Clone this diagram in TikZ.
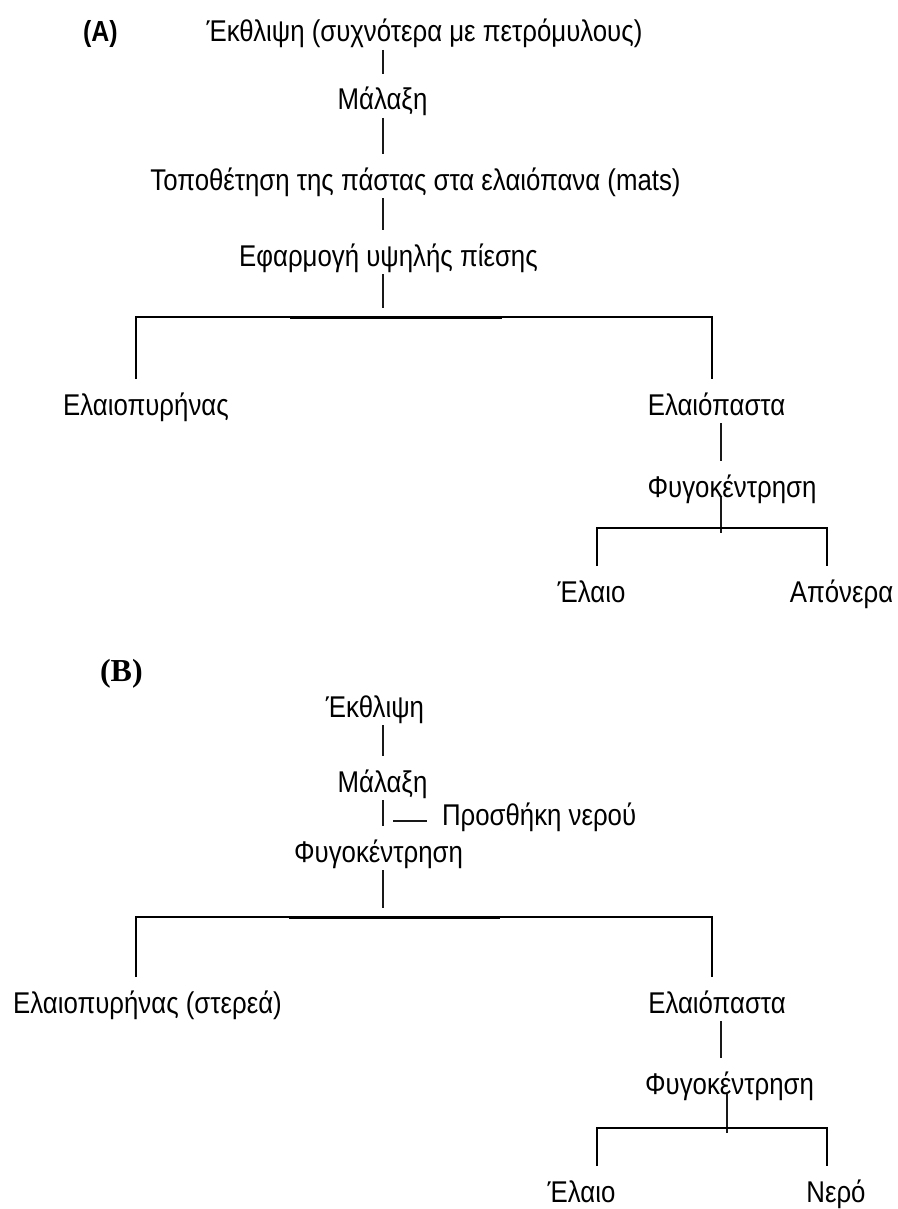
\documentclass[tikz,border=0pt]{standalone}
\usepackage{fontspec}
\setmainfont{Liberation Sans}[FakeStretch=0.86]
\newfontfamily\timesfont{Liberation Serif}
\usetikzlibrary{calc}
\begin{document}
\begin{tikzpicture}[x=1pt,y=-1pt,
  txt/.style={font=\fontsize{30}{34}\selectfont, inner sep=0pt, outer sep=0pt,
              text height=36pt, text depth=8pt, anchor=base},
  spine/.style={line width=1.2pt, draw=black!90},
  bar/.style={line width=1.7pt, draw=black},
  heavy/.style={line width=3pt, draw=black}]
\useasboundingbox (0,0) rectangle (897,1209);

% ---------- (A) ----------
\node[txt, anchor=base west, font=\fontsize{29}{33}\selectfont\bfseries] (lblA) at (83,42) {(A)};
\node[txt] (a1) at (424.5,42) {Έκθλιψη (συχνότερα με πετρόμυλους)};
\node[txt] (a2) at (382.5,110) {Μάλαξη};
\node[txt] (a3) at (415.5,190) {Τοποθέτηση της πάστας στα ελαιόπανα (mats)};
\node[txt] (a4) at (388.5,266) {Εφαρμογή υψηλής πίεσης};
\node[txt] (a5) at (146,415) {Ελαιοπυρήνας};
\node[txt] (a6) at (716.5,415) {Ελαιόπαστα};
\node[txt] (a7) at (732,497) {Φυγοκέντρηση};
\node[txt] (a8) at (591.5,602) {Έλαιο};
\node[txt] (a9) at (841.5,602) {Απόνερα};

\coordinate (sA) at (383,0);
\coordinate (sA2) at (721,0);
\coordinate (jA) at (383,308);
\coordinate (bAL) at (136,317);
\coordinate (bAR) at (712,317);
\coordinate (hA1) at (290,317);
\coordinate (hA2) at (502,317);
\coordinate (jA2) at (721,533);
\coordinate (cAL) at (597,528);
\coordinate (cAR) at (827,528);

\draw[spine] (a1.south -| sA) -- (a2.north -| sA);
\draw[spine] (a2.south -| sA) -- (a3.north -| sA);
\draw[spine] (a3.south -| sA) -- (a4.north -| sA);
\draw[spine] (a4.south -| sA) -- (jA);
\draw[bar] (a5.north -| bAL) -- (bAL) -- (bAR) -- (a6.north -| bAR);
\draw[heavy] (hA1) -- (hA2);
\draw[spine] (a6.south -| sA2) -- (a7.north -| sA2);
\draw[spine] (a7.base -| sA2) -- (jA2);
\draw[bar] (a8.north -| cAL) -- (cAL) -- (cAR) -- (a9.north -| cAR);

% ---------- (B) ----------
\node[txt, anchor=base west, font=\fontsize{32}{36}\timesfont\bfseries] (lblB) at (100,681) {(B)};
\node[txt] (b1) at (375,717) {Έκθλιψη};
\node[txt] (b2) at (382.5,792) {Μάλαξη};
\node[txt, anchor=base west] (b3) at (442,825) {Προσθήκη νερού};
\node[txt] (b4) at (378.5,862) {Φυγοκέντρηση};
\node[txt] (b5) at (147.5,1013) {Ελαιοπυρήνας (στερεά)};
\node[txt] (b6) at (717,1013) {Ελαιόπαστα};
\node[txt] (b7) at (729.5,1094) {Φυγοκέντρηση};
\node[txt] (b8) at (581.5,1202) {Έλαιο};
\node[txt] (b9) at (836,1202) {Νερό};

\coordinate (sB) at (383,0);
\coordinate (sB2) at (721,0);
\coordinate (sB3) at (727,0);
\coordinate (sideB) at (393,821);
\coordinate (jB) at (383,908);
\coordinate (bBL) at (136,917);
\coordinate (bBR) at (712,917);
\coordinate (hB1) at (289,917);
\coordinate (hB2) at (500,917);
\coordinate (jB2) at (727,1133);
\coordinate (cBL) at (597,1128);
\coordinate (cBR) at (827,1128);

\draw[spine] (b1.south -| sB) -- (b2.north -| sB);
\draw[spine] (b2.south -| sB) -- (b4.north -| sB);
\draw[spine, shorten >=15pt] (sideB) -- (b3.west |- sideB);
\draw[spine] (b4.south -| sB) -- (jB);
\draw[bar] (b5.north -| bBL) -- (bBL) -- (bBR) -- (b6.north -| bBR);
\draw[heavy] (hB1) -- (hB2);
\draw[spine] (b6.south -| sB2) -- (b7.north -| sB2);
\draw[spine] (b7.base -| sB3) -- (jB2);
\draw[bar] (b8.north -| cBL) -- (cBL) -- (cBR) -- (b9.north -| cBR);
\end{tikzpicture}
\end{document}
